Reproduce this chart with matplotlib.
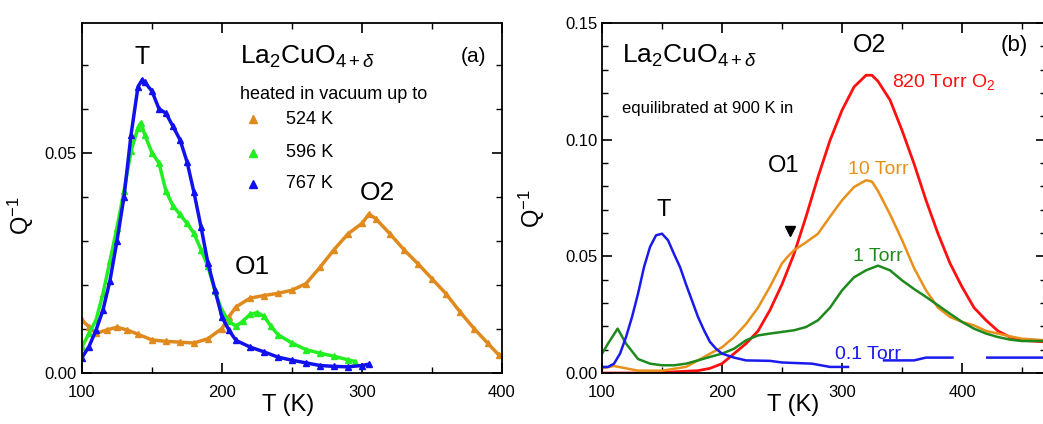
import numpy as np
import matplotlib
matplotlib.use("Agg")
import matplotlib.pyplot as plt
from matplotlib.ticker import MultipleLocator

plt.rcParams['font.family'] = ['Liberation Sans', 'DejaVu Sans']
plt.rcParams['mathtext.fontset'] = 'custom'
plt.rcParams['mathtext.rm'] = 'Liberation Sans'
plt.rcParams['mathtext.it'] = 'Liberation Sans:italic'

# ---- panel (a): heated in vacuum ----
T_524 = [100, 105, 110, 118, 125, 132, 140, 150, 160, 170, 180, 190, 200, 205, 210,
         220, 230, 240, 250, 260, 270, 280, 290, 300, 305, 310, 320, 330, 340, 350,
         360, 370, 380, 390, 398]
Q_524 = [0.012, 0.0105, 0.009, 0.0098, 0.0104, 0.0098, 0.0088, 0.0075, 0.0072, 0.0070,
         0.0068, 0.0078, 0.0101, 0.0128, 0.015, 0.017, 0.0176, 0.0181, 0.0188, 0.0203,
         0.024, 0.028, 0.0316, 0.034, 0.0361, 0.035, 0.0316, 0.028, 0.0248, 0.0214,
         0.018, 0.0139, 0.0101, 0.0067, 0.004]

T_596 = [100, 105, 110, 115, 120, 125, 130, 135, 140, 142, 145, 150, 155, 160, 165,
         170, 175, 180, 185, 190, 195, 200, 205, 210, 215, 220, 225, 230, 235, 240,
         250, 260, 270, 280, 290, 295]
Q_596 = [0.0059, 0.009, 0.012, 0.018, 0.0255, 0.033, 0.0413, 0.0504, 0.0557, 0.0568,
         0.054, 0.050, 0.0477, 0.0413, 0.038, 0.036, 0.034, 0.0317, 0.028, 0.0242,
         0.0186, 0.0141, 0.0118, 0.0106, 0.0118, 0.0133, 0.0137, 0.0129, 0.0106, 0.0087,
         0.0068, 0.0053, 0.0045, 0.0038, 0.003, 0.0026]

T_767 = [100, 105, 110, 115, 120, 125, 130, 135, 140, 143, 145, 150, 155, 160, 165,
         170, 175, 180, 185, 190, 195, 200, 205, 210, 220, 230, 240, 250, 260, 270,
         280, 290, 300, 305]
Q_767 = [0.0035, 0.006, 0.0097, 0.0143, 0.021, 0.030, 0.040, 0.054, 0.065, 0.0666,
         0.066, 0.064, 0.060, 0.059, 0.056, 0.053, 0.048, 0.041, 0.0332, 0.0249,
         0.0188, 0.0127, 0.0097, 0.0074, 0.0059, 0.0048, 0.0036, 0.0029, 0.0023, 0.0017,
         0.0015, 0.0014, 0.0017, 0.002]

# ---- panel (b): equilibrated at 900 K ----
T_820 = [100, 120, 140, 160, 180, 190, 200, 210, 220, 230, 240, 250, 260, 270, 280,
         290, 300, 310, 320, 325, 330, 340, 350, 360, 370, 380, 390, 400, 410, 420,
         430, 440, 450, 470]
Q_820 = [0.0, 0.0, 0.0, 0.0005, 0.001, 0.002, 0.004, 0.0083, 0.0126, 0.018, 0.027,
         0.038, 0.051, 0.067, 0.084, 0.0997, 0.1126, 0.1226, 0.1276, 0.1276, 0.125,
         0.117, 0.104, 0.0897, 0.074, 0.0597, 0.047, 0.0369, 0.028, 0.0226, 0.018,
         0.0154, 0.014, 0.0133]

T_10 = [100, 110, 120, 130, 150, 170, 180, 190, 200, 210, 220, 230, 240, 250, 255,
        260, 270, 280, 290, 300, 310, 320, 325, 330, 340, 350, 360, 370, 380, 390,
        400, 410, 420, 430, 440, 450, 470]
Q_10 = [0.002, 0.003, 0.002, 0.001, 0.001, 0.0026, 0.0054, 0.0083, 0.011, 0.0154,
        0.021, 0.028, 0.037, 0.047, 0.050, 0.0526, 0.056, 0.0597, 0.067, 0.074,
        0.0797, 0.0826, 0.082, 0.078, 0.068, 0.057, 0.045, 0.0354, 0.028, 0.024,
        0.0219, 0.0204, 0.018, 0.0169, 0.0157, 0.0147, 0.014]

T_1 = [100, 105, 113, 120, 130, 140, 150, 160, 170, 180, 190, 200, 210, 220, 230,
       240, 250, 260, 270, 280, 290, 300, 310, 320, 330, 340, 350, 360, 370, 380,
       390, 400, 410, 420, 430, 440, 450, 470]
Q_1 = [0.0083, 0.0126, 0.019, 0.0126, 0.006, 0.004, 0.0033, 0.0033, 0.004, 0.0054,
       0.0069, 0.0083, 0.0104, 0.014, 0.0161, 0.0169, 0.0176, 0.0183, 0.0197, 0.0226,
       0.028, 0.0354, 0.041, 0.044, 0.046, 0.044, 0.0397, 0.036, 0.0326, 0.029,
       0.0254, 0.0219, 0.019, 0.0169, 0.0154, 0.0143, 0.0137, 0.0137]

T_01 = [100, 105, 110, 115, 120, 125, 130, 135, 140, 145, 150, 155, 160, 165, 170,
        175, 180, 185, 190, 195, 200, 210, 220, 240, 250, 275, 290, 305, 320,
        335, 360, 370, 392, 405, 421, 470]
Q_01 = [0.0026, 0.0026, 0.004, 0.0083, 0.0154, 0.024, 0.034, 0.0454, 0.054, 0.059,
        0.0597, 0.0569, 0.051, 0.0454, 0.038, 0.031, 0.024, 0.0183, 0.0133, 0.0104,
        0.0083, 0.0066, 0.0054, 0.0052, 0.0045, 0.004, 0.0026, 0.0026, np.nan,
        0.0054, 0.0054, 0.0066, 0.0066, np.nan, 0.0066, 0.0066]

# O1 arrow marker position
T_arrow = [257]
Q_arrow = [0.061]

fig = plt.figure(figsize=(10.43, 4.24), dpi=100)
axa = fig.add_axes([0.0786, 0.1203, 0.4027, 0.8255])
axb = fig.add_axes([0.5772, 0.1203, 0.4257, 0.8255])

fs_tick = 12
for ax in (axa, axb):
    ax.tick_params(which='both', direction='in', top=True, right=True, labelsize=fs_tick)
    ax.tick_params(which='major', length=7, width=1.2)
    ax.tick_params(which='minor', length=4, width=1.0)
    ax.tick_params(axis='x', which='major', pad=9)
    ax.xaxis.set_major_locator(MultipleLocator(100))
    ax.xaxis.set_minor_locator(MultipleLocator(50))
    ax.yaxis.set_major_locator(MultipleLocator(0.05))
    ax.yaxis.set_minor_locator(MultipleLocator(0.01))
    ax.yaxis.set_major_formatter(matplotlib.ticker.FormatStrFormatter('%.2f'))
    for s in ax.spines.values():
        s.set_linewidth(1.3)

# panel (a)
axa.plot(T_524, Q_524, color='#e08a1e', lw=2.5, marker='^', ms=4)
axa.plot(T_596, Q_596, color='#22ee22', lw=2.5, marker='^', ms=4)
axa.plot(T_767, Q_767, color='#1111ee', lw=2.5, marker='^', ms=4)
axa.set_xlim(100, 400)
axa.set_ylim(0, 0.0795)
axa.set_xlabel('T (K)', fontsize=17)
axa.xaxis.set_label_coords(0.49, -0.06)
axa.set_ylabel('Q$^{-1}$', fontsize=17)
axa.yaxis.set_label_coords(-0.11, 0.45)

axa.text(143, 0.0718, 'T', fontsize=18, ha='center', va='center')
axa.text(213, 0.0718, 'La$_2$CuO$_{4+\\delta}$', fontsize=19, va='center')
axa.text(389, 0.0718, '(a)', fontsize=15, ha='right', va='center')
axa.text(213, 0.0633, 'heated in vacuum up to', fontsize=13, va='center')
legend_labels = ['524 K', '596 K', '767 K']
legend_colors = ['#e08a1e', '#22ee22', '#1111ee']
legend_y = [0.0576, 0.0500, 0.0430]
for lab, col, yy in zip(legend_labels, legend_colors, legend_y):
    axa.plot([222], [yy], marker='^', color=col, ms=6, ls='none')
    axa.text(246, yy, lab, fontsize=13, va='center')
axa.text(311, 0.0408, 'O2', fontsize=19, ha='center', va='center')
axa.text(222, 0.0240, 'O1', fontsize=19, ha='center', va='center')

# panel (b)
axb.plot(T_820, Q_820, color='#ff1010', lw=2)
axb.plot(T_10, Q_10, color='#e8901a', lw=1.8)
axb.plot(T_1, Q_1, color='#1e8a1e', lw=1.8)
axb.plot(T_01, Q_01, color='#1a1aee', lw=1.8)
axb.plot(T_arrow, Q_arrow, marker='v', color='black', ms=7, ls='none')
axb.set_xlim(100, 470)
axb.set_ylim(0, 0.15)
axb.set_xlabel('T (K)', fontsize=17)
axb.xaxis.set_label_coords(0.43, -0.06)
axb.set_ylabel('Q$^{-1}$', fontsize=17)
axb.yaxis.set_label_coords(-0.125, 0.47)

axb.text(117, 0.136, 'La$_2$CuO$_{4+\\delta}$', fontsize=19, va='center')
axb.text(117, 0.1135, 'equilibrated at 900 K in', fontsize=12, va='center')
axb.text(323, 0.1405, 'O2', fontsize=18, ha='center', va='center')
axb.text(455, 0.1405, '(b)', fontsize=16, ha='right', va='center')
axb.text(342, 0.1245, '820 Torr O$_2$', fontsize=14, color='#ff1010', va='center')
axb.text(305, 0.0870, '10 Torr', fontsize=14, color='#e8901a', va='center')
axb.text(309, 0.0500, '1 Torr', fontsize=14, color='#1e8a1e', va='center')
axb.text(294, 0.0079, '0.1 Torr', fontsize=14, color='#1a1aee', va='center')
axb.text(251, 0.0885, 'O1', fontsize=17, ha='center', va='center')
axb.text(151, 0.0700, 'T', fontsize=17, ha='center', va='center')

fig.savefig('out.png', dpi=100)
